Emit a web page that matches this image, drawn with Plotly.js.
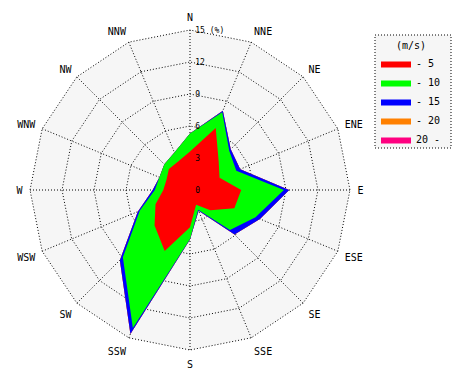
<!DOCTYPE html>
<html>
<head>
<meta charset="utf-8">
<script src="https://cdn.plot.ly/plotly-3.0.1.min.js"></script>
<style>html,body{margin:0;padding:0;background:#fff;}#chart{width:470px;height:380px;}</style>
</head>
<body>
<div id="chart"></div>
<script>
// Wind directions (clockwise from North)
const directions = ["N","NNE","NE","ENE","E","ESE","SE","SSE","S","SSW","SW","WSW","W","WNW","NW","NNW"];

// Cumulative frequency (%) for each wind-speed class
const upTo5  = [3.6, 6.3, 3.8, 3.0, 4.8, 4.5, 2.7, 1.5, 3.5, 6.2, 4.7, 3.5, 2.5, 2.4, 2.8, 2.9];
const upTo10 = [5.3, 7.9, 5.2, 4.7, 8.8, 6.65, 5.3, 2.0, 4.6, 14.0, 8.9, 5.1, 3.3, 3.1, 3.4, 3.8];
const upTo15 = [5.3, 8.05, 5.4, 5.1, 9.3, 7.1, 5.9, 2.1, 4.65, 14.6, 9.3, 5.3, 3.5, 3.1, 3.4, 3.8];
const upTo20 = [5.3, 8.05, 5.4, 5.1, 9.3, 7.1, 5.9, 2.1, 4.65, 14.6, 9.3, 5.3, 3.5, 3.1, 3.4, 3.8];
const above20 = [5.3, 8.05, 5.4, 5.1, 9.3, 7.1, 5.9, 2.1, 4.65, 14.6, 9.3, 5.3, 3.5, 3.1, 3.4, 3.8];

const classNames = ["- 5", "- 10", "- 15", "- 20", "20 -"];
const classColors = ["#ff0000", "#00ff00", "#0000ff", "#ff8000", "#ff0080"];
const classSeries = [upTo5, upTo10, upTo15, upTo20, above20];

const radialTicks = [0, 3, 6, 9, 12, 15];
const radialTickText = ["\u00a00", "\u00a03", "\u00a06", "\u00a09", "\u00a012", "\u00a015 (%)"];
const rMax = 15;

const traces = [];
// draw largest class first so smaller ones lie on top
for (let i = classSeries.length - 1; i >= 0; i--) {
  const r = classSeries[i].concat([classSeries[i][0]]);
  const th = directions.concat([directions[0]]);
  traces.push({
    type: "scatterpolar",
    mode: "lines",
    r: r,
    theta: th,
    fill: "toself",
    fillcolor: classColors[i],
    line: {color: classColors[i], width: 0},
    name: classNames[i],
    legendrank: i + 1,
    hoverinfo: "skip"
  });
}
// centre dot
traces.push({
  type: "scatterpolar", mode: "markers", r: [0], theta: [directions[0]],
  marker: {color: "#000", size: 5}, showlegend: false, hoverinfo: "skip"
});
// helper subplot that only carries the dotted outer ring at 15 %
traces.push({
  type: "scatterpolar", subplot: "polar2", mode: "markers", r: [0], theta: [directions[0]],
  marker: {opacity: 0}, showlegend: false, hoverinfo: "skip"
});

const mono = "DejaVu Sans Mono, monospace";
const dotted = "1px,2px";

// main polar: radius 160 px around (190,190)
const R = 160, cx = 190, cy = 190, W = 470, H = 380;
const outerMax = 16;
const R2 = R * outerMax / rMax;

const commonAngular = {
  type: "category",
  categoryarray: directions,
  direction: "clockwise",
  rotation: 90,
  showline: false
};

const layout = {
  width: W, height: H,
  margin: {l: 0, r: 0, t: 0, b: 0},
  paper_bgcolor: "#ffffff",
  font: {family: mono, color: "#000", size: 10},
  showlegend: true,
  polar: {
    domain: {x: [(cx - R)/W, (cx + R)/W], y: [1 - (cy + R)/H, 1 - (cy - R)/H]},
    bgcolor: "#f6f6f6",
    gridshape: "linear",
    angularaxis: Object.assign({}, commonAngular, {
      showgrid: true,
      gridcolor: "#000",
      griddash: dotted,
      gridwidth: 1,
      ticks: "outside",
      ticklen: 5,
      tickcolor: "rgba(0,0,0,0)",
      tickfont: {family: mono, size: 10, color: "#000"}
    }),
    radialaxis: {
      range: [0, rMax],
      angle: 90,
      tickvals: radialTicks,
      ticktext: radialTickText,
      showline: false,
      showgrid: true,
      gridcolor: "#000",
      griddash: dotted,
      gridwidth: 1,
      ticks: "",
      tickfont: {family: mono, size: 8, color: "#000"},
      tickangle: 90
    }
  },
  polar2: {
    domain: {x: [(cx - R2)/W, (cx + R2)/W], y: [1 - (cy + R2)/H, 1 - (cy - R2)/H]},
    bgcolor: "rgba(0,0,0,0)",
    gridshape: "linear",
    angularaxis: Object.assign({}, commonAngular, {
      showgrid: false, showticklabels: false, ticks: ""
    }),
    radialaxis: {
      range: [0, outerMax],
      angle: 90,
      tickvals: [rMax],
      showticklabels: false,
      showline: false,
      showgrid: true,
      gridcolor: "#000",
      griddash: dotted,
      gridwidth: 1,
      ticks: ""
    }
  },
  legend: {
    x: 376/470, y: 1 - 36/380, xanchor: "left", yanchor: "top",
    bgcolor: "rgba(0,0,0,0)",
    borderwidth: 0,
    font: {family: mono, size: 10, color: "#000"},
    title: {text: "(m/s)", side: "top center", font: {family: mono, size: 10, color: "#000"}},
    traceorder: "normal",
    itemwidth: 30
  },
  shapes: [{
    type: "rect", xref: "paper", yref: "paper",
    x0: 375/470, x1: 451/470, y0: 1 - 148/380, y1: 1 - 35/380,
    line: {color: "#000", width: 1, dash: dotted},
    fillcolor: "#f6f6f6", layer: "below"
  }]
};

Plotly.newPlot("chart", traces, layout, {staticPlot: true, displayModeBar: false});
</script>
</body>
</html>
